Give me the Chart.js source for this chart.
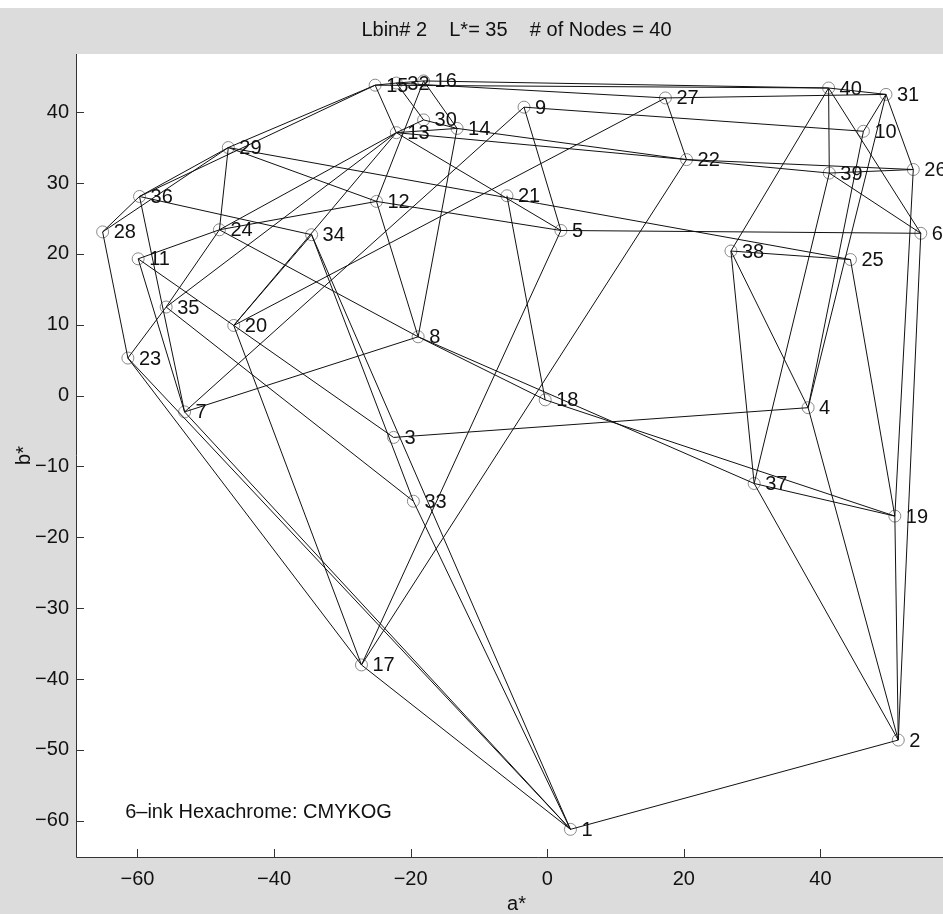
<!DOCTYPE html>
<html>
<head>
<meta charset="utf-8">
<script src="https://cdn.jsdelivr.net/npm/chart.js@4.4.1/dist/chart.umd.min.js"></script>
<style>
  html, body { margin: 0; padding: 0; background: #dcdcdc; overflow: hidden; }
  #wrap { width: 1000px; height: 914px; }
</style>
</head>
<body>
<div id="wrap"><canvas id="myChart" width="1000" height="914"></canvas></div>
<script>
// node coordinates (a*, b*), node n is index n-1
const nodeA = [3.4, 51.4, -22.5, 38.2, 2.0, 54.7, -53.1, -18.9, -3.4, 46.3,
               -59.9, -25.0, -22.1, -13.2, -25.2, -18.1, -27.2, -0.3, 50.9, -45.9,
               -5.9, 20.4, -61.4, -48.0, 44.4, 53.6, 17.3, -65.1, -46.7, -18.1,
               49.6, -22.1, -19.6, -34.5, -55.8, -59.7, 30.3, 26.9, 41.3, 41.2];
const nodeB = [-61.2, -48.6, -5.9, -1.7, 23.3, 22.9, -2.3, 8.3, 40.7, 37.3,
               19.3, 27.4, 37.1, 37.7, 43.8, 44.4, -38.0, -0.6, -17.0, 9.9,
               28.2, 33.3, 5.3, 23.4, 19.2, 31.9, 42.0, 23.1, 35.0, 38.9,
               42.5, 44.1, -14.9, 22.7, 12.5, 28.1, -12.4, 20.4, 31.4, 43.4];

// mesh edges as pairs of node numbers
const edges = [
  [1,2],[1,17],[1,23],[1,7],[1,33],[1,34],
  [2,37],[2,4],[2,19],[2,6],
  [3,20],[3,4],
  [4,38],[4,10],[4,31],
  [5,9],[5,12],[5,6],[5,17],[5,13],
  [6,40],[6,39],
  [7,8],[7,36],[7,11],[7,9],
  [8,12],[8,14],[8,18],[8,37],[8,24],
  [9,10],
  [10,31],
  [11,24],[11,20],
  [12,24],[12,29],[12,16],
  [13,15],[13,30],[13,14],[13,22],[13,20],[13,35],[13,24],
  [14,16],[14,22],[14,30],
  [15,32],[15,36],[15,29],[15,40],
  [16,32],[16,40],
  [17,20],[17,22],[17,23],
  [18,19],[18,21],
  [19,37],[19,25],[19,26],
  [20,34],[20,27],
  [22,27],[22,39],[22,26],
  [23,28],[23,35],
  [24,29],[24,35],
  [25,38],[25,29],
  [26,31],[26,39],
  [27,31],[27,32],
  [28,36],[28,29],
  [29,36],
  [30,32],
  [33,34],[33,35],
  [34,36],
  [37,38],[37,39],
  [38,40],
  [39,40],
  [40,31]
];

const xTicks = [-60, -40, -20, 0, 20, 40];
const yTicks = [40, 30, 20, 10, 0, -10, -20, -30, -40, -50, -60];

const titleText = 'Lbin# 2    L*= 35    # of Nodes = 40';
const noteText = '6\u2013ink Hexachrome: CMYKOG';
const FONT = '"Liberation Sans Narrow", "Liberation Sans", Arial, sans-serif';
const fmtTick = v => String(v).replace('-', '\u2212');

const nodes = nodeA.map((a, i) => ({ x: a, y: nodeB[i] }));

const datasets = edges.map(([p, q]) => ({
  type: 'line',
  data: [nodes[p - 1], nodes[q - 1]],
  borderColor: '#111',
  borderWidth: 1,
  pointRadius: 0,
  fill: false,
  tension: 0
}));
datasets.push({
  type: 'scatter',
  data: nodes,
  pointStyle: 'circle',
  pointRadius: 6,
  pointBorderWidth: 1,
  pointBorderColor: '#8a8a8a',
  pointBackgroundColor: 'rgba(0,0,0,0)'
});

const extras = {
  id: 'extras',
  beforeDraw(chart) {
    const { ctx, chartArea: c } = chart;
    ctx.save();
    ctx.fillStyle = '#dcdcdc';
    ctx.fillRect(0, 0, chart.width, chart.height);
    ctx.fillStyle = '#fff';
    ctx.fillRect(0, 0, chart.width, 8);
    ctx.fillRect(c.left, c.top, c.right - c.left, c.bottom - c.top);
    ctx.restore();
  },
  afterDatasetsDraw(chart) {
    const { ctx, chartArea: c, scales } = chart;
    const meta = chart.getDatasetMeta(chart.data.datasets.length - 1);
    ctx.save();
    ctx.fillStyle = '#111';
    ctx.font = '20px ' + FONT;
    ctx.textBaseline = 'middle';
    ctx.textAlign = 'left';
    meta.data.forEach((pt, i) => ctx.fillText(String(i + 1), pt.x + 11, pt.y + 1));
    ctx.fillText(noteText, scales.x.getPixelForValue(-61.8), scales.y.getPixelForValue(-58.8));
    // axes drawn MATLAB style: ticks pointing inwards
    ctx.strokeStyle = '#333';
    ctx.lineWidth = 1;
    ctx.beginPath();
    ctx.moveTo(c.left + 0.5, c.top);
    ctx.lineTo(c.left + 0.5, c.bottom + 0.5);
    ctx.lineTo(chart.width, c.bottom + 0.5);
    xTicks.forEach(v => {
      const px = Math.round(scales.x.getPixelForValue(v)) + 0.5;
      ctx.moveTo(px, c.bottom);
      ctx.lineTo(px, c.bottom - 8);
    });
    yTicks.forEach(v => {
      const py = Math.round(scales.y.getPixelForValue(v)) + 0.5;
      ctx.moveTo(c.left, py);
      ctx.lineTo(c.left + 8, py);
    });
    ctx.stroke();
    ctx.restore();
  }
};

new Chart(document.getElementById('myChart').getContext('2d'), {
  type: 'scatter',
  data: { datasets },
  options: {
    responsive: false,
    animation: false,
    events: [],
    layout: { padding: { left: 0, right: 43, top: 0, bottom: 0 } },
    plugins: {
      legend: { display: false },
      tooltip: { enabled: false },
      title: {
        display: true,
        text: titleText,
        fullSize: false,
        color: '#111',
        font: { family: FONT, size: 20, weight: 'normal', lineHeight: 1.2 },
        padding: { top: 18, bottom: 12 }
      }
    },
    scales: {
      x: {
        type: 'linear',
        min: -69, max: 60,
        afterBuildTicks: s => { s.ticks = xTicks.map(v => ({ value: v })); },
        afterFit: s => { s.height = 57; },
        grid: { display: false, drawTicks: false },
        border: { display: false },
        ticks: { color: '#111', padding: 10, callback: fmtTick, font: { family: FONT, size: 20 } },
        title: { display: true, text: 'a*', color: '#111', padding: 0, font: { family: FONT, size: 20, lineHeight: 1.0 } }
      },
      y: {
        type: 'linear',
        min: -65.1, max: 48.2,
        afterBuildTicks: s => { s.ticks = yTicks.map(v => ({ value: v })); },
        afterFit: s => { s.width = 76; },
        grid: { display: false, drawTicks: false },
        border: { display: false },
        ticks: { color: '#111', padding: 7, callback: fmtTick, font: { family: FONT, size: 20 } },
        title: { display: true, text: 'b*', color: '#111', padding: { top: 12, bottom: 0 }, font: { family: FONT, size: 20 } }
      }
    }
  },
  plugins: [extras]
});
</script>
</body>
</html>
